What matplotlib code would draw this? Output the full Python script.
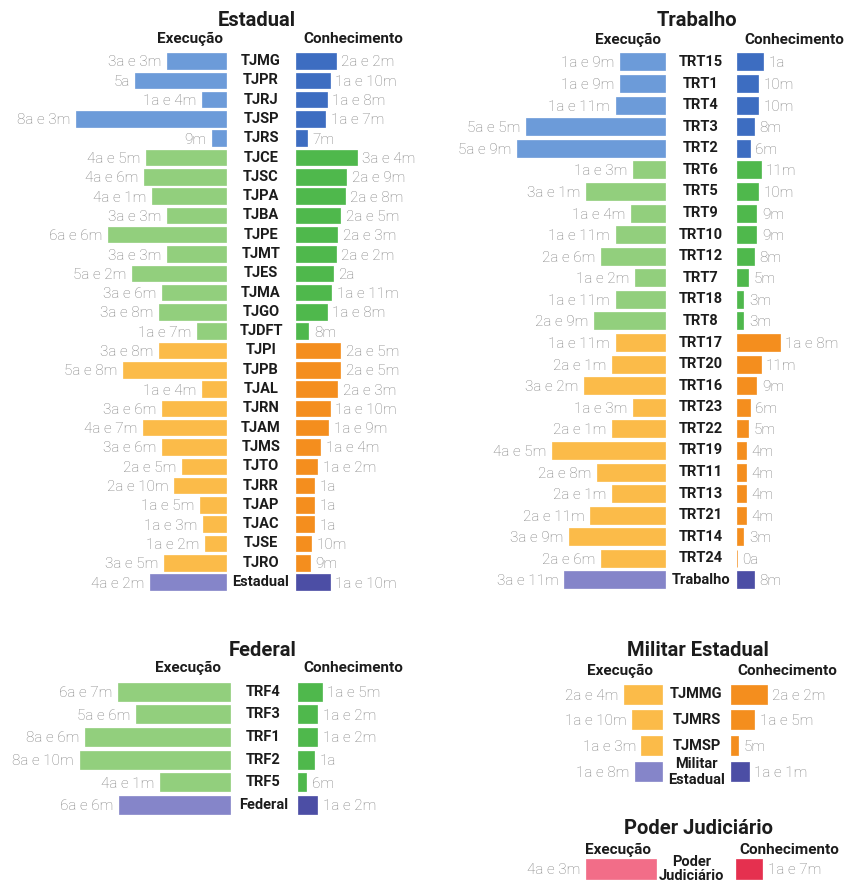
import matplotlib
import matplotlib.pyplot as plt

matplotlib.use("Agg")

W, H = 849, 884
plt.rcParams["font.family"] = ["Roboto", "DejaVu Sans"]

# Tempos médios em meses: fase de execução e fase de conhecimento
estadual_tribunais = [
    "TJMG", "TJPR", "TJRJ", "TJSP", "TJRS",
    "TJCE", "TJSC", "TJPA", "TJBA", "TJPE", "TJMT", "TJES", "TJMA", "TJGO", "TJDFT",
    "TJPI", "TJPB", "TJAL", "TJRN", "TJAM", "TJMS", "TJTO", "TJRR", "TJAP", "TJAC",
    "TJSE", "TJRO", "Estadual",
]
estadual_execucao = [
    39, 60, 16, 99, 9,
    53, 54, 49, 39, 78, 39, 62, 42, 44, 19,
    44, 68, 16, 42, 55, 42, 29, 34, 17, 15, 14, 41,
    50,
]
estadual_conhecimento = [
    26, 22, 20, 19, 7,
    40, 33, 32, 29, 27, 26, 24, 23, 20, 8,
    29, 29, 27, 22, 21, 16, 14, 12, 12, 12, 10, 9,
    22,
]
estadual_porte = ["grande"] * 5 + ["medio"] * 10 + ["pequeno"] * 12 + ["total"]

trabalho_tribunais = [
    "TRT15", "TRT1", "TRT4", "TRT3", "TRT2",
    "TRT6", "TRT5", "TRT9", "TRT10", "TRT12", "TRT7", "TRT18", "TRT8",
    "TRT17", "TRT20", "TRT16", "TRT23", "TRT22", "TRT19", "TRT11", "TRT13",
    "TRT21", "TRT14", "TRT24", "Trabalho",
]
trabalho_execucao = [
    21, 21, 23, 65, 69,
    15, 37, 16, 23, 30, 14, 23, 33,
    23, 25, 38, 15, 25, 53, 32, 25, 35, 45, 30,
    47,
]
trabalho_conhecimento = [
    12, 10, 10, 8, 6,
    11, 10, 9, 9, 8, 5, 3, 3,
    20, 11, 9, 6, 5, 4, 4, 4, 4, 3, 0,
    8,
]
trabalho_porte = ["grande"] * 5 + ["medio"] * 8 + ["pequeno"] * 11 + ["total"]

federal_tribunais = ["TRF4", "TRF3", "TRF1", "TRF2", "TRF5", "Federal"]
federal_execucao = [79, 66, 102, 106, 49, 78]
federal_conhecimento = [17, 14, 14, 12, 6, 14]
federal_porte = ["medio"] * 5 + ["total"]

militar_tribunais = ["TJMMG", "TJMRS", "TJMSP", "Militar\nEstadual"]
militar_execucao = [28, 22, 15, 20]
militar_conhecimento = [26, 17, 5, 13]
militar_porte = ["pequeno"] * 3 + ["total"]

judiciario_tribunais = ["Poder\nJudiciário"]
judiciario_execucao = [51]
judiciario_conhecimento = [19]
judiciario_porte = ["judiciario"]

COR_EXECUCAO = {
    "grande": "#6c9bd9",
    "medio": "#92cf7d",
    "pequeno": "#fbbb49",
    "total": "#8585c9",
    "judiciario": "#f26d88",
}
COR_CONHECIMENTO = {
    "grande": "#3d6dc1",
    "medio": "#4fb84c",
    "pequeno": "#f48e1e",
    "total": "#4c4ea5",
    "judiciario": "#e5304f",
}
COR_VALOR = "#7e7e7e"
COR_TEXTO = "#1c1c1c"


def fmt_tempo(meses):
    if meses == 0:
        return "0a"
    anos, resto = divmod(meses, 12)
    if anos == 0:
        return f"{resto}m"
    if resto == 0:
        return f"{anos}a"
    return f"{anos}a e {resto}m"


def fig_txt(fig, x, y, texto, **kw):
    # posição em pixels da imagem final
    fig.text(x / W, 1 - y / H, texto, ha="center", va="center", color=COR_TEXTO, **kw)


def painel(fig, titulo, tribunais, execucao, conhecimento, porte, lay):
    n = len(tribunais)
    passo = lay["passo"]
    topo = lay["y0"] - passo / 2
    x0, x1, cx, escala = lay["x0"], lay["x1"], lay["cx"], lay["escala"]
    ax = fig.add_axes([x0 / W, 1 - (topo + n * passo) / H, (x1 - x0) / W, n * passo / H])
    ax.set_xlim((x0 - cx) / escala, (x1 - cx) / escala)
    ax.set_ylim(n - 0.5, -0.5)
    ax.axis("off")

    g = lay["vao"] / escala
    h = lay["altura"] / passo
    linhas = list(range(n))
    cor_e = [COR_EXECUCAO[p] for p in porte]
    cor_c = [COR_CONHECIMENTO[p] for p in porte]
    ax.barh(linhas, [-v for v in execucao], left=-g, height=h,
            color=cor_e, edgecolor=cor_e, linewidth=0.5)
    ax.barh(linhas, conhecimento, left=g, height=h,
            color=cor_c, edgecolor=cor_c, linewidth=0.5)

    for i, (nome, e, c) in enumerate(zip(tribunais, execucao, conhecimento)):
        ax.annotate(fmt_tempo(e), (-g - e, i), xytext=(-4, 0), textcoords="offset points",
                    ha="right", va="center_baseline", fontsize=11, weight="light",
                    color=COR_VALOR)
        ax.annotate(fmt_tempo(c), (g + c, i), xytext=(4, 0), textcoords="offset points",
                    ha="left", va="center_baseline", fontsize=11, weight="light",
                    color=COR_VALOR)
        ax.annotate(nome, (0, i), xytext=(lay.get("dx", 0), 0), textcoords="offset points",
                    ha="center", va="center", fontsize=10.5, weight="bold",
                    color=COR_TEXTO, linespacing=lay.get("entrelinha", 1.15))

    fig_txt(fig, lay["titulo_x"], lay["titulo_y"], titulo, fontsize=14.5, weight="semibold")
    fig_txt(fig, lay["exec_x"], lay["cab_y"], "Execução", fontsize=11, weight="bold")
    fig_txt(fig, lay["conh_x"], lay["cab_y"], "Conhecimento", fontsize=11, weight="bold")
    return ax


fig = plt.figure(figsize=(W / 100, H / 100), dpi=100)
fig.patch.set_facecolor("white")

painel(fig, "Estadual", estadual_tribunais, estadual_execucao, estadual_conhecimento,
       estadual_porte,
       dict(x0=0, x1=430, cx=261, escala=1.51, vao=35.3, y0=61, passo=19.3, altura=15.5,
            titulo_x=257, titulo_y=20, exec_x=190, conh_x=353, cab_y=39))

painel(fig, "Trabalho", trabalho_tribunais, trabalho_execucao, trabalho_conhecimento,
       trabalho_porte,
       dict(x0=430, x1=849, cx=701, escala=2.14, vao=36, y0=62, passo=21.58, altura=17,
            titulo_x=697, titulo_y=20, exec_x=628, conh_x=794, cab_y=40))

painel(fig, "Federal", federal_tribunais, federal_execucao, federal_conhecimento,
       federal_porte,
       dict(x0=0, x1=430, cx=263.5, escala=1.415, vao=34, y0=691.5, passo=22.7, altura=18,
            titulo_x=263, titulo_y=650, exec_x=188, conh_x=353, cab_y=668))

painel(fig, "Militar Estadual", militar_tribunais, militar_execucao, militar_conhecimento,
       militar_porte,
       dict(x0=430, x1=849, cx=696.5, escala=1.37, vao=34.5, y0=694, passo=25.9, altura=19,
            titulo_x=698, titulo_y=650, exec_x=620, conh_x=787, cab_y=671))

painel(fig, "Poder Judiciário", judiciario_tribunais, judiciario_execucao,
       judiciario_conhecimento, judiciario_porte,
       dict(x0=430, x1=849, cx=696, escala=1.38, vao=40, y0=869, passo=24, altura=20,
            dx=-3, entrelinha=1.0, titulo_x=699, titulo_y=829, exec_x=618, conh_x=789,
            cab_y=850))

fig.savefig("out.png", dpi=100, facecolor="white")
